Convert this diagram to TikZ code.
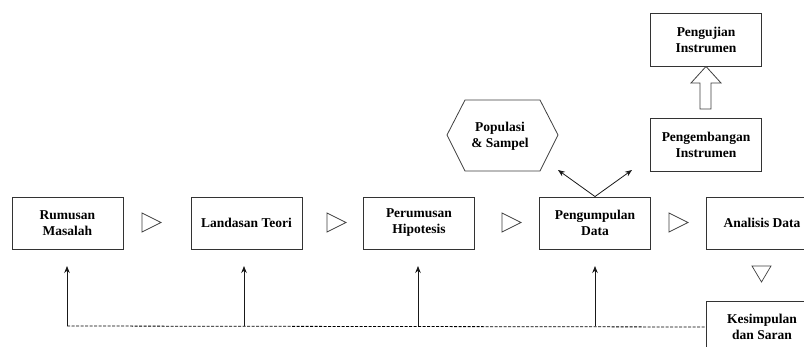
\documentclass[tikz,border=0pt]{standalone}
\usepackage{fontspec}
\setmainfont{Liberation Serif}[BoldFont={Liberation Serif Bold}]
\usetikzlibrary{arrows.meta}
\begin{document}
\begin{tikzpicture}[x=1pt,y=-1pt,
 box/.style={draw=black!80, line width=0.9pt, minimum width=111pt, minimum height=52pt, align=center, font=\bfseries\fontsize{13.5}{16}\selectfont, inner sep=0pt},
 txt/.style={align=center, font=\bfseries\fontsize{13.5}{16}\selectfont, inner sep=0pt},
 tri/.style={draw=black!75, line width=0.7pt},
 arr/.style={draw=black!90, line width=0.8pt, -{Stealth[length=7pt,width=5.5pt]}},
 dsh/.style={draw=black, line width=0.8pt, dash pattern=on 3pt off 1.5pt}
]
\useasboundingbox (0,0) rectangle (804,347);
\fill[white] (0,0) rectangle (804,347);
\node[box] (rm) at (67.5,223) {Rumusan\\Masalah};
\node[box] (lt) at (246.5,223) {Landasan Teori};
\node[box] (ph) at (419,223) {Perumusan\\Hipotesis};
\node[box] (pd) at (595,223) {Pengumpulan\\Data};
\node[box] (ad) at (762,223) {Analisis Data};
\node[box] (ks) at (762,327) {Kesimpulan\\dan Saran};
\node[box, minimum height=53pt] (pi) at (706,39.5) {Pengujian\\Instrumen};
\node[box, minimum height=53pt] (pe) at (706,144.5) {Pengembangan\\Instrumen};
% hexagon
\draw[tri, line width=0.8pt] (447,135) -- (465,100) -- (540,100) -- (558,135) -- (540,171) -- (465,171) -- cycle;
\node[txt] (ps) at (500,136) {Populasi\\\& Sampel};
% flow triangles
\draw[tri] (142,213) -- (161,222.5) -- (142,232) -- cycle;
\draw[tri] (327,213) -- (346,222.5) -- (327,232) -- cycle;
\draw[tri] (502,213) -- (521,222.5) -- (502,232) -- cycle;
\draw[tri] (669,213) -- (688,222.5) -- (669,232) -- cycle;
\draw[tri] (752,266) -- (771,266) -- (761.5,282) -- cycle;
% hollow arrow
\draw[tri, line width=0.8pt] (700,109) -- (700,83) -- (691,83) -- (pi.south) -- (721,83) -- (711,83) -- (711,109) -- cycle;
% V arrows
\coordinate (hx) at (558,170);
\coordinate (hy) at (632,170);
\draw[arr] (pd.north) -- (hx);
\draw[arr] (pd.north) -- (hy);
% feedback
\coordinate (d1) at (67,326);
\coordinate (d2) at (244,326);
\coordinate (d3) at (418,326);
\coordinate (d4) at (595,326);
\coordinate (u1) at (67,266);
\coordinate (u2) at (244,266);
\coordinate (u3) at (418,266);
\coordinate (u4) at (595,266);
\draw[dsh] (d1) -- (ks.west);
\foreach \i in {1,2,3,4} \draw[arr] (d\i) -- (u\i);
\end{tikzpicture}
\end{document}
